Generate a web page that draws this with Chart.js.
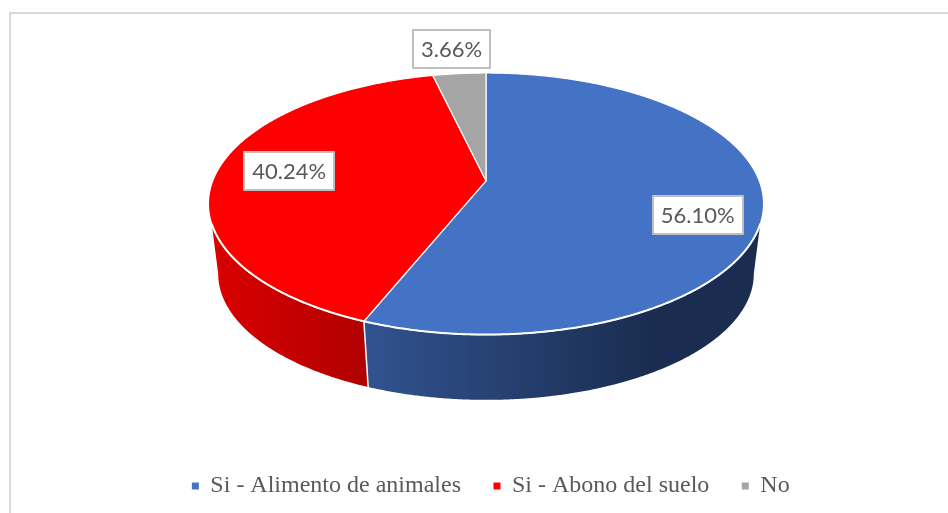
<!DOCTYPE html>
<html>
<head>
<meta charset="utf-8">
<style>
html,body{margin:0;padding:0;background:#fff;width:948px;height:513px;overflow:hidden}
#wrap{width:948px;height:513px;position:relative}
</style>
<script src="https://cdn.jsdelivr.net/npm/chart.js@4"></script>
</head>
<body>
<div id="wrap"><canvas id="c" width="948" height="513"></canvas></div>
<script>
const categories = ['Si - Alimento de animales', 'Si - Abono del suelo', 'No'];
const values = [56.10, 40.24, 3.66];
const sliceColors = ['#4472C4', '#FF0000', '#A5A5A5'];
const wallStops = [
  [[0, '#31538F'], [0.45, '#233B68'], [0.72, '#1A2D50'], [1, '#1A2D50']],
  [[0, '#DA0000'], [1, '#B00000']],
  [[0, '#7C7C7C'], [1, '#7C7C7C']]
];
// label-box centre, relative to the pie centre, in pie radii
const labelOffsets = [[1.618, 0.084], [-1.504, -0.252], [-0.263, -1.183]];

const view = {
  shiftX: -5,       // pie drawn slightly left of the legend's centre line
  stretch: 2.122,   // horizontal stretch of the tilted disc
  tilt: 0.176,      // perspective: apex sits this many radii above the ellipse centre
  depth: 0.534,     // centre of lower rim below upper-rim centre (radii)
  shrink: 0.965,    // lower rim scale
  wallFrom: 18.7, wallTo: 161.3,    // visible upper rim, degrees
  lowerFrom: 10, lowerTo: 170       // visible lower rim, degrees
};

function projector(arc) {
  const R = arc.outerRadius, k = view.tilt, cx = arc.x + view.shiftX;
  // homography: unit disc -> ellipse of half height R and half width R*stretch
  const B = R * (1 - k * k);
  const A = R * view.stretch * Math.sqrt(1 - k * k);
  const apexY = arc.y - k * R;
  return {
    top(a) {
      const x = Math.cos(a), y = Math.sin(a), w = 1 - k * y;
      return [cx + A * x / w, apexY + B * y / w];
    },
    bottom(a) {
      const p = this.top(a);
      return [cx + (p[0] - cx) * view.shrink,
              arc.y + view.depth * R + (p[1] - arc.y) * view.shrink];
    },
    apex: [cx, apexY], R, cx
  };
}

function rimPts(fn, a0, a1) {
  const n = Math.max(2, Math.ceil(Math.abs(a1 - a0) / 0.005)), pts = [];
  for (let i = 0; i <= n; i++) pts.push(fn(a0 + (a1 - a0) * i / n));
  return pts;
}

const tiltedPie = {
  id: 'tiltedPie',
  beforeDatasetDraw() { return false; },
  afterDatasetsDraw(chart) {
    const ctx = chart.ctx, arcs = chart.getDatasetMeta(0).data;
    const P = projector(arcs[0]);
    const rad = Math.PI / 180;
    const wA = view.wallFrom * rad, wB = view.wallTo * rad;
    const lA = view.lowerFrom * rad, lB = view.lowerTo * rad;
    const top = a => P.top(a), bot = a => P.bottom(a);

    // frame
    ctx.save();
    ctx.strokeStyle = '#D9D9D9';
    ctx.lineWidth = 2;
    ctx.beginPath();
    ctx.moveTo(10, chart.height + 2); ctx.lineTo(10, 13); ctx.lineTo(chart.width + 2, 13);
    ctx.stroke();

    // side walls
    arcs.forEach((arc, i) => {
      const a0 = Math.max(arc.startAngle, wA), a1 = Math.min(arc.endAngle, wB);
      if (a1 <= a0) return;
      const b0 = arc.startAngle < wA ? lA : a0, b1 = arc.endAngle > wB ? lB : a1;
      const T = rimPts(top, a0, a1), B = rimPts(bot, b0, b1);
      const xs = T.concat(B).map(p => p[0]);
      const xr = Math.max(...xs), xl = Math.min(...xs);
      const g = ctx.createLinearGradient(xl, 0, xr, 0);
      wallStops[i].forEach(s => g.addColorStop(s[0], s[1]));
      ctx.fillStyle = g;
      ctx.beginPath();
      T.forEach((p, j) => j ? ctx.lineTo(p[0], p[1]) : ctx.moveTo(p[0], p[1]));
      B.reverse().forEach(p => ctx.lineTo(p[0], p[1]));
      ctx.closePath();
      ctx.fill();
    });
    // wall seams
    ctx.strokeStyle = '#FFFFFF';
    ctx.lineWidth = 1.5;
    arcs.forEach(arc => {
      const a = arc.endAngle;
      if (a > wA && a < wB) {
        const t = top(a), b = bot(a);
        ctx.beginPath(); ctx.moveTo(t[0], t[1]); ctx.lineTo(b[0], b[1]); ctx.stroke();
      }
    });
    // top faces
    arcs.forEach((arc, i) => {
      const pts = rimPts(top, arc.startAngle, arc.endAngle);
      ctx.beginPath();
      ctx.moveTo(P.apex[0], P.apex[1]);
      pts.forEach(p => ctx.lineTo(p[0], p[1]));
      ctx.closePath();
      ctx.fillStyle = sliceColors[i];
      ctx.fill();
      ctx.lineJoin = 'round';
      ctx.strokeStyle = '#FFFFFF';
      ctx.lineWidth = 1.2;
      ctx.stroke();
    });
    // white highlight along the front rim
    ctx.strokeStyle = '#FFFFFF';
    ctx.lineWidth = 2;
    ctx.beginPath();
    rimPts(top, wA, wB).forEach((p, j) => j ? ctx.lineTo(p[0], p[1]) : ctx.moveTo(p[0], p[1]));
    ctx.stroke();
    // value labels
    ctx.font = '22px Lato, "Open Sans", sans-serif';
    ctx.textAlign = 'center';
    ctx.textBaseline = 'middle';
    arcs.forEach((arc, i) => {
      const txt = values[i].toFixed(2) + '%';
      const cx = P.cx + labelOffsets[i][0] * P.R, cy = arc.y + labelOffsets[i][1] * P.R;
      const w = Math.round(ctx.measureText(txt).width) + 16, h = 38;
      const bx = Math.round(cx - w / 2), by = Math.round(cy - h / 2);
      ctx.fillStyle = '#FFFFFF';
      ctx.fillRect(bx, by, w, h);
      ctx.strokeStyle = '#BFBFBF';
      ctx.lineWidth = 2;
      ctx.strokeRect(bx, by, w, h);
      ctx.fillStyle = '#595959';
      ctx.fillText(txt, cx, cy + 1);
    });
    ctx.restore();
  }
};

new Chart(document.getElementById('c'), {
  type: 'pie',
  data: {
    labels: categories,
    datasets: [{ data: values, backgroundColor: sliceColors, borderWidth: 0 }]
  },
  plugins: [tiltedPie],
  options: {
    responsive: false,
    animation: false,
    layout: { padding: { left: 34, right: 0, top: 73, bottom: 5 } },
    plugins: {
      tooltip: { enabled: false },
      legend: {
        position: 'bottom',
        title: { display: true, text: '', font: { size: 12 }, padding: { top: 0, bottom: 92 } },
        labels: {
          usePointStyle: true,
          pointStyle: 'rect',
          boxWidth: 6,
          boxHeight: 7,
          padding: 33,
          color: '#595959',
          font: { family: '"Liberation Serif", serif', size: 24 }
        }
      }
    }
  }
});
</script>
</body>
</html>
